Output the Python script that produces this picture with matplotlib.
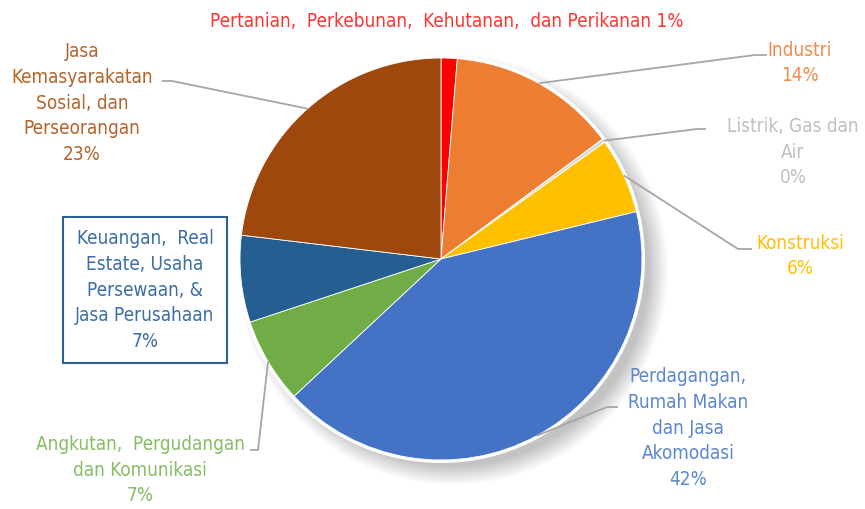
import matplotlib
matplotlib.use("Agg")
import matplotlib.pyplot as plt
from matplotlib import font_manager
import numpy as np

labels = ["Pertanian,  Perkebunan,  Kehutanan,  dan Perikanan",
          "Industri",
          "Listrik, Gas dan\nAir",
          "Konstruksi",
          "Perdagangan,\nRumah Makan\ndan Jasa\nAkomodasi",
          "Angkutan,  Pergudangan\ndan Komunikasi",
          "Keuangan,  Real\nEstate, Usaha\nPersewaan, &\nJasa Perusahaan",
          "Jasa\nKemasyarakatan\nSosial, dan\nPerseorangan"]
values = [1.3, 13.6, 0.3, 6.1, 42.0, 6.9, 7.0, 23.2]
pct_labels = ["1%", "14%", "0%", "6%", "42%", "7%", "7%", "23%"]

colors = ["#ff0000", "#ed7d31", "#d9d9d9", "#ffc000", "#4472c4", "#70ad47", "#255e91", "#9e480e"]
text_colors = ["#ff3333", "#f08a4b", "#bfbfbf", "#ffc000", "#5b87d1", "#86bd62", "#3a6ea5", "#b3632b"]

W, H = 865, 509
fig = plt.figure(figsize=(W / 100, H / 100), dpi=100)
ax = fig.add_axes([0, 0, 1, 1])

def Y(y):
    return H - y

cx, cy, R = 441, Y(259), 201

# soft shadow
for i in range(20):
    ax.add_patch(plt.Circle((cx + 12, cy - 11), R + 14 - i, color="#000000",
                            alpha=0.01, lw=0, zorder=0))
ax.add_patch(plt.Circle((cx, cy), R + 3, color="white", lw=0, zorder=1))

wedges, _ = ax.pie(values, colors=colors, startangle=90, counterclock=False,
                   center=(cx, cy), radius=R, frame=True,
                   wedgeprops=dict(edgecolor="white", linewidth=0.6))
for w in wedges:
    w.set_zorder(2)
ax.set_xlim(0, W)
ax.set_ylim(0, H)
ax.set_aspect("equal")
ax.axis("off")

names = {f.name for f in font_manager.fontManager.ttflist}
cond = [f for f in font_manager.fontManager.ttflist
        if f.name == "DejaVu Sans" and f.stretch == "condensed"
        and f.style == "normal" and f.weight in (400, "normal", "regular")]
if "Liberation Sans Narrow" in names:
    fprops = dict(family="Liberation Sans Narrow", size=14)
elif cond:
    fprops = dict(fname=cond[0].fname, size=13.6)
else:
    fprops = dict(family="Liberation Sans", size=13.5)
fp = font_manager.FontProperties(**fprops)

# label centers (pixel coords from top) and leader elbows
label_pos = [(447, 21), (800, 63), (793, 152), (800, 256), (688, 428),
             (140, 470), (145, 290), (82, 103)]
elbows = [None,
          [(755, 55), (767, 55)],
          [(697, 129), (706, 129)],
          [(738, 249), (752, 249)],
          [(607, 407), (618, 407)],
          [(258, 450), (250, 450)],
          None,
          [(172, 81), (162, 81)]]

for i, w in enumerate(wedges):
    ang = np.deg2rad((w.theta1 + w.theta2) / 2)
    ax0 = cx + R * np.cos(ang)
    ay0 = cy + R * np.sin(ang)
    if elbows[i] is not None:
        xs = [ax0] + [p[0] for p in elbows[i]]
        ys = [ay0] + [Y(p[1]) for p in elbows[i]]
        ax.plot(xs, ys, color="#a6a6a6", lw=1.3, zorder=3, solid_capstyle="butt")
    x, y = label_pos[i]
    if i == 0:
        txt = labels[i] + " " + pct_labels[i]
    else:
        txt = labels[i] + "\n" + pct_labels[i]
    kw = {}
    if i == 6:
        kw["bbox"] = dict(boxstyle="square,pad=0.65", fc="white", ec="#2e6094", lw=1.5)
    ax.text(x, Y(y), txt, ha="center", va="center", color=text_colors[i],
            fontproperties=fp, linespacing=1.45, zorder=4, **kw)

fig.savefig("out.png", dpi=100)
